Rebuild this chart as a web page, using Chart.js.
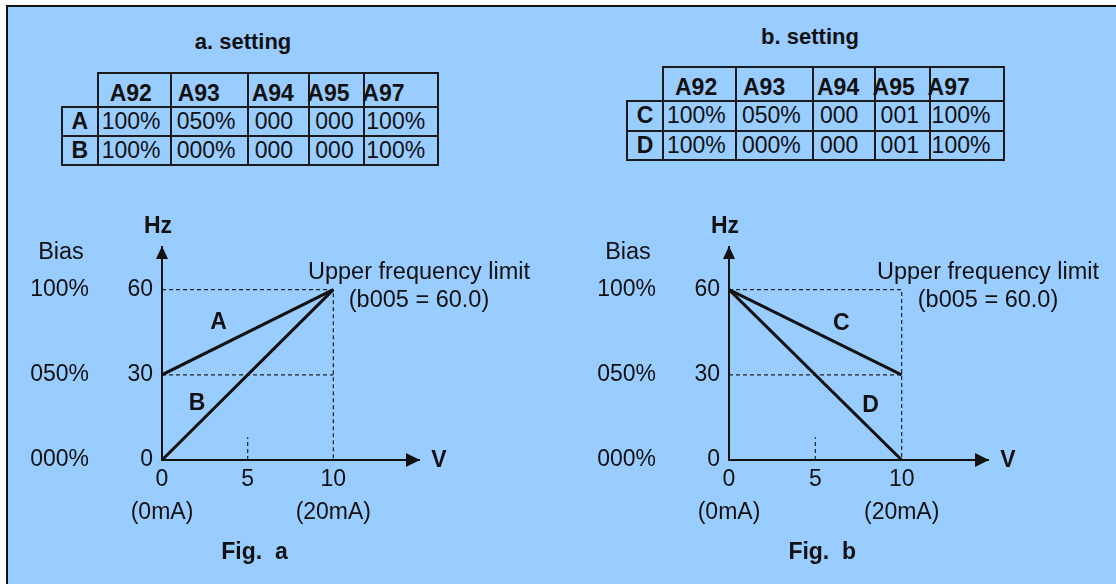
<!DOCTYPE html>
<html>
<head>
<meta charset="utf-8">
<script src="https://cdn.jsdelivr.net/npm/chart.js@4.4.1/dist/chart.umd.min.js"></script>
<style>
  html, body { margin: 0; padding: 0; background: #fff; overflow: hidden; }
  body { width: 1116px; height: 584px; position: relative;
         font-family: "Liberation Sans", Arial, sans-serif; color: #111; }
  #frame { position: absolute; left: 6px; top: 5px; right: -6px; bottom: -6px;
           background: #99ccff; border-top: 2px solid #111; border-left: 2px solid #111; }
  .title { position: absolute; font-weight: bold; font-size: 22px; white-space: nowrap;
           transform: translate(-50%, -50%); }
  .cell { position: absolute; box-sizing: border-box; border: 2px solid #1a1a1a;
          font-size: 23px; line-height: 27px; white-space: nowrap; }
  .head { font-weight: bold; }
  canvas { position: absolute; top: 200px; }
</style>
</head>
<body>
<div id="frame"></div>
<div class="title" style="left:243px; top:42px">a. setting</div>
<div class="title" style="left:810px; top:37px">b. setting</div>
<div id="tables"></div>
<canvas id="figA" width="560" height="384" style="left:0"></canvas>
<canvas id="figB" width="549" height="384" style="left:567px"></canvas>

<script>
// Table contents
const paramCols = ["A92", "A93", "A94", "A95", "A97"];
const rowsA = ["A", "B"];
const valuesA = [
  ["100%", "050%", "000", "000", "100%"],
  ["100%", "000%", "000", "000", "100%"],
];
const rowsB = ["C", "D"];
const valuesB = [
  ["100%", "050%", "000", "001", "100%"],
  ["100%", "000%", "000", "001", "100%"],
];

// Axis ticks
const voltTicks = [0, 5, 10];
const currentLabels = ["(0mA)", "", "(20mA)"];
const hzTicks = [0, 30, 60];
const biasLabels = ["000%", "050%", "100%"];

// Lines (volts -> Hz)
const voltEnds = [0, 10];
const lineA = [30, 60];
const lineB = [0, 60];
const lineC = [60, 30];
const lineD = [60, 0];

const FONT = "'Liberation Sans', Arial, sans-serif";
const INK = "#111";

// ---- tables ----
const colEdges = [0, 36, 109, 186, 247.6, 302.6, 376.6];
const rowEdges = [0, 34, 63.3, 92.3];
const headIndent = [12, 7, 4, -2, -2];
const cellIndent = [4, 6, 7, 6, 2];

function addCell(parent, x0, y0, x1, y1, text, cls, indent, center, padTop) {
  const d = document.createElement("div");
  d.className = "cell " + cls;
  d.style.left = (x0 - 1) + "px";
  d.style.top = (y0 - 1) + "px";
  d.style.width = (x1 - x0 + 2) + "px";
  d.style.height = (y1 - y0 + 2) + "px";
  d.style.paddingTop = padTop + "px";
  if (center) d.style.textAlign = "center";
  else d.style.textIndent = (indent - 1) + "px";
  d.textContent = text;
  parent.appendChild(d);
}

function buildTable(ox, oy, rows, values) {
  const host = document.getElementById("tables");
  paramCols.forEach((c, j) => {
    addCell(host, ox + colEdges[j + 1], oy + rowEdges[0], ox + colEdges[j + 2], oy + rowEdges[1],
      c, "head", headIndent[j], false, 6);
  });
  rows.forEach((r, i) => {
    const y0 = oy + rowEdges[i + 1], y1 = oy + rowEdges[i + 2];
    addCell(host, ox + colEdges[0], y0, ox + colEdges[1], y1, r, "head", 0, true, 0);
    values[i].forEach((v, j) => {
      addCell(host, ox + colEdges[j + 1], y0, ox + colEdges[j + 2], y1, v, "", cellIndent[j], false, 0);
    });
  });
}

buildTable(61.7, 72.7, rowsA, valuesA);
buildTable(627, 67.3, rowsB, valuesB);

// ---- charts ----
function toPoints(ys) {
  return voltEnds.map((v, i) => ({ x: v, y: ys[i] }));
}

const diagramText = {
  id: "diagramText",
  afterDraw(chart, args, opts) {
    const ctx = chart.ctx;
    const area = chart.chartArea;
    const xs = chart.scales.x, ys = chart.scales.y, bs = chart.scales.bias;
    ctx.save();
    ctx.fillStyle = INK;

    // arrow heads
    ctx.beginPath();
    ctx.moveTo(area.right + 1, area.bottom);
    ctx.lineTo(area.right - 13, area.bottom - 7);
    ctx.lineTo(area.right - 13, area.bottom + 7);
    ctx.closePath();
    ctx.fill();
    ctx.beginPath();
    ctx.moveTo(area.left, area.top - 1);
    ctx.lineTo(area.left - 6, area.top + 12);
    ctx.lineTo(area.left + 6, area.top + 12);
    ctx.closePath();
    ctx.fill();

    ctx.textAlign = "center";
    ctx.textBaseline = "middle";

    ctx.font = "bold 23px " + FONT;
    ctx.fillText("Hz", area.left - 4, area.top - 20);
    ctx.fillText("V", area.right + 20, area.bottom + 1);
    opts.names.forEach((n, i) => {
      const p = opts.namePos[i];
      ctx.fillText(n, xs.getPixelForValue(p[0]), ys.getPixelForValue(p[1]));
    });
    ctx.fillText(opts.fig, xs.getPixelForValue(5.4), area.bottom + 93);

    ctx.font = "23.5px " + FONT;
    ctx.fillText("Bias", bs.right - 61, area.top + 6);
    ctx.fillText("Upper frequency limit", xs.getPixelForValue(15), ys.getPixelForValue(66));
    ctx.fillText("(b005 = 60.0)", xs.getPixelForValue(15), ys.getPixelForValue(56));
    ctx.restore();
  },
};

function makeChart(id, lines, names, namePos, fig, rightPad) {
  const solid = lines.map((ys, i) => ({
    label: names[i],
    data: toPoints(ys),
    borderColor: INK,
    borderWidth: 3,
    pointRadius: 0,
  }));
  const guide = (pts) => ({
    data: pts,
    borderColor: "#222",
    borderWidth: 1.2,
    borderDash: [4, 3],
    pointRadius: 0,
  });
  const guides = [
    guide([{ x: 0, y: hzTicks[2] }, { x: voltTicks[2], y: hzTicks[2] }, { x: voltTicks[2], y: 0 }]),
    guide([{ x: 0, y: hzTicks[1] }, { x: voltTicks[2], y: hzTicks[1] }]),
    guide([{ x: voltTicks[1], y: 0 }, { x: voltTicks[1], y: 8 }]),
  ];

  const tickFont = { family: FONT, size: 23 };
  return new Chart(document.getElementById(id).getContext("2d"), {
    type: "line",
    data: { datasets: solid.concat(guides) },
    options: {
      responsive: false,
      animation: false,
      layout: { padding: { top: 47, left: 0, right: rightPad, bottom: 0 } },
      plugins: {
        legend: { display: false },
        tooltip: { enabled: false },
        diagramText: { names: names, namePos: namePos, fig: fig },
      },
      scales: {
        x: {
          type: "linear",
          min: 0,
          max: 15,
          afterBuildTicks: (a) => { a.ticks = voltTicks.map((v) => ({ value: v })); },
          afterFit: (s) => { s.height = 124; },
          grid: { display: false, drawTicks: false },
          border: { display: true, color: INK, width: 2 },
          ticks: {
            padding: 4,
            color: INK,
            autoSkip: false,
            maxRotation: 0,
            font: { family: FONT, size: 23, lineHeight: 1.4 },
            callback: (v, i) => (currentLabels[i] ? [String(v), currentLabels[i]] : String(v)),
          },
        },
        y: {
          type: "linear",
          position: "left",
          weight: 0,
          min: 0,
          max: 75,
          afterBuildTicks: (a) => { a.ticks = hzTicks.map((v) => ({ value: v })); },
          afterFit: (s) => { s.width = 40; },
          grid: { display: false, drawTicks: false },
          border: { display: true, color: INK, width: 2 },
          ticks: { padding: 9, color: INK, autoSkip: false, font: tickFont },
        },
        bias: {
          type: "linear",
          position: "left",
          weight: 1,
          min: 0,
          max: 75,
          afterBuildTicks: (a) => { a.ticks = hzTicks.map((v) => ({ value: v })); },
          afterFit: (s) => { s.width = 122; },
          grid: { display: false, drawTicks: false },
          border: { display: false },
          ticks: {
            padding: 33,
            color: INK,
            autoSkip: false,
            font: tickFont,
            callback: (v, i) => biasLabels[i],
          },
        },
      },
    },
    plugins: [diagramText],
  });
}

makeChart("figA", [lineA, lineB], ["A", "B"], [[3.3, 48.4], [2.05, 20]], "Fig.  a", 141);
makeChart("figB", [lineC, lineD], ["C", "D"], [[6.5, 48], [8.2, 19]], "Fig.  b", 128);
</script>
</body>
</html>
